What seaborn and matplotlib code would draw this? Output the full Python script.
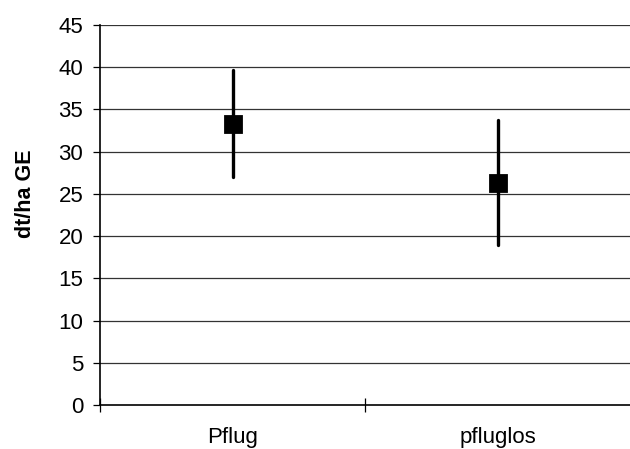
import matplotlib
matplotlib.use("Agg")
import matplotlib.pyplot as plt
from matplotlib.ticker import FixedLocator
import seaborn as sns
import pandas as pd

# Yield per tillage system: lower bound, mean, upper bound (dt/ha GE)
categories = ["Pflug", "pfluglos"]
lower = [27.0, 19.0]
means = [33.3, 26.3]
upper = [39.7, 33.8]

sns.set_theme(style="white")
plt.rcParams["font.family"] = ["Liberation Sans", "DejaVu Sans"]

# Long-form table: median of (low, mean, high) is the mean, full percentile interval is the range
rows = []
for c, lo, m, hi in zip(categories, lower, means, upper):
    for v in (lo, m, hi):
        rows.append({"system": c, "yield": v})
df = pd.DataFrame(rows)

fig = plt.figure(figsize=(6.30, 4.49), dpi=100)
ax = fig.add_axes([100 / 630, 1 - 405 / 449, 530 / 630, 380 / 449])

# horizontal grid
for g in range(5, 50, 5):
    ax.axhline(g, color="#333333", linewidth=0.9, zorder=0)

sns.pointplot(
    data=df, x="system", y="yield", order=categories,
    estimator="median", errorbar=("pi", 100),
    linestyle="none", marker="s", markersize=11,
    color="black", err_kws={"linewidth": 2.4}, capsize=0, ax=ax,
)

ax.set_xlim(-0.5, 1.5)
ax.set_ylim(0, 45)
ax.set_yticks(range(0, 50, 5))
ax.tick_params(axis="y", which="major", length=5, width=0.9, color="black",
               labelsize=16, pad=7, left=True, direction="out")
ax.tick_params(axis="x", which="major", length=0, labelsize=16, pad=16)
ax.xaxis.set_minor_locator(FixedLocator([-0.5, 0.5]))
ax.tick_params(axis="x", which="minor", length=10, width=0.9, color="black",
               direction="inout", bottom=True)

for side in ("top", "right"):
    ax.spines[side].set_visible(False)
for side in ("left", "bottom"):
    ax.spines[side].set_color("black")
    ax.spines[side].set_linewidth(1.2)

ax.set_xlabel("")
ax.set_ylabel("dt/ha GE", fontsize=15.5, fontweight="bold", color="black")
ax.yaxis.set_label_coords(-0.12, 0.555)
for lbl in ax.get_xticklabels() + ax.get_yticklabels():
    lbl.set_color("black")

fig.savefig("out.png", dpi=100)
